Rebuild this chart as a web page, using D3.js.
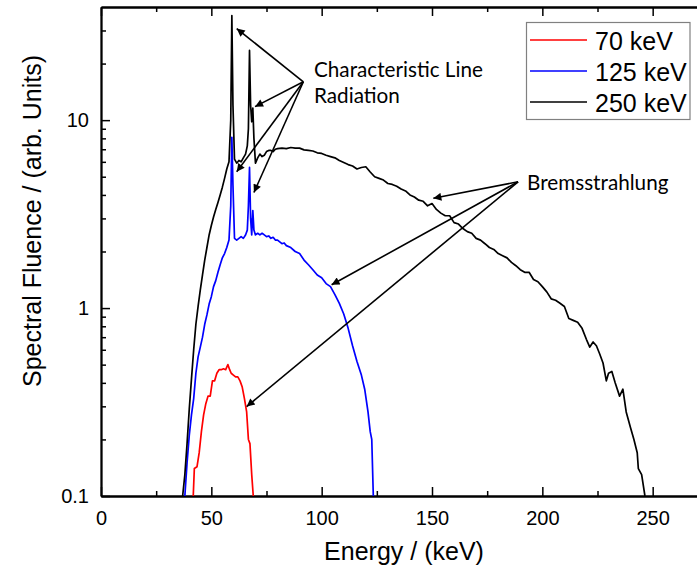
<!DOCTYPE html>
<html>
<head>
<meta charset="utf-8">
<script src="https://cdn.jsdelivr.net/npm/d3@7"></script>
<style>
  html, body { margin: 0; padding: 0; background: #fff; }
  svg { display: block; }
  .axis text { font-family: "Liberation Sans", Arial, sans-serif; font-size: 20px; fill: #000; }
  .axis path, .axis line { stroke: #000; }
</style>
</head>
<body>
<svg id="chart" width="697" height="572"></svg>
<script>
// ---------- data ----------
const seriesNames = ["70 keV", "125 keV", "250 keV"];
const seriesColors = ["#ff0000", "#0000ff", "#000000"];

const energy70 = [41.8,42.3,43.5,44.5,45.5,46.5,47.5,48.5,49.5,50.5,51.5,52.5,53.5,54.5,55.5,56.5,57.5,58.3,59,60,61,62,63,64,65,66,66.8,67.5,68.3,69.0];
const fluence70 = [0.1,0.14,0.143,0.17,0.22,0.27,0.31,0.34,0.34,0.41,0.41,0.45,0.47,0.47,0.475,0.47,0.5,0.47,0.45,0.44,0.43,0.43,0.41,0.38,0.33,0.28,0.2,0.19,0.13,0.1];

const energy125 = [38,39,40,41,42,43,44,45,46,47,48,49,50,51,52,53,54,55,56,57,58,58.8,59.3,59.8,60.5,61.5,62.5,63.5,64.5,65.5,66.3,66.8,67.3,67.8,68.3,68.8,69.3,70,71,72,73,74,75,76,77,78,79,80,81,82,83,84,86,88,90,92,94,96,98,100,102,104,106,108,110,112,114,116,118,119.5,121,122,122.7,123.4];
const fluence125 = [0.1,0.15,0.21,0.27,0.33,0.45,0.55,0.62,0.7,0.82,0.92,1.05,1.15,1.3,1.4,1.55,1.7,1.85,1.95,2.1,2.3,3.5,8.1,4.5,2.35,2.3,2.35,2.4,2.35,2.45,2.6,3.5,5.6,3.0,2.45,3.3,2.6,2.45,2.5,2.45,2.5,2.45,2.4,2.42,2.35,2.38,2.3,2.3,2.25,2.2,2.22,2.15,2.1,2.0,1.95,1.8,1.7,1.6,1.5,1.45,1.35,1.3,1.18,1.06,0.93,0.78,0.63,0.52,0.44,0.37,0.28,0.22,0.2,0.1];

const energy250 = [37,38,39,40,41,42,43,44,45,46,47,48,49,50,51,52,53,54,55,56,57,58,58.8,59.3,59.8,60.5,61.5,62.5,63.5,64.5,65.5,66.3,66.8,67.3,67.8,68.3,68.8,69.3,70,71,72,73,74,75,76,77,78,79,80,82,84,86,88,90,92,94,96,98,100,102,104,106,108,110,112,114,116,118,120,122,124,126,128,130,132,134,136,138,140,142,144,146,148,150,152,154,156,158,160,162,164,166,168,170,172,174,176,178,180,182,184,186,188,190,192,194,196,198,200,202,204,206,208,210,212,214,216,218,220,221.5,223,224.5,226,227.5,229,230,231.5,233,235,236.5,238,240,241.5,243,243.5,245,246.5];
const fluence250 = [0.1,0.13,0.19,0.29,0.42,0.6,0.82,1.02,1.25,1.5,1.8,2.1,2.45,2.75,3.05,3.35,3.65,4.0,4.4,4.9,5.5,6.0,10,36,12,6.2,5.9,6.1,6.0,6.3,6.6,7.3,9,23.5,12,9.8,11.6,8,5.9,6.3,6.6,6.4,6.5,6.8,6.9,6.9,6.8,7.0,7.05,7.1,7.05,7.15,7.1,7.1,6.95,6.9,6.85,6.7,6.65,6.5,6.4,6.3,6.1,5.95,5.8,5.7,5.5,5.6,5.65,5.3,5.0,4.9,4.8,4.6,4.55,4.45,4.3,4.2,4.0,3.9,3.75,3.7,3.5,3.6,3.35,3.2,3.1,3.1,2.85,2.8,2.65,2.55,2.5,2.35,2.3,2.2,2.1,2.05,1.95,1.9,1.85,1.75,1.68,1.6,1.55,1.55,1.42,1.38,1.3,1.22,1.12,1.1,1.06,1.02,0.88,0.86,0.84,0.78,0.68,0.62,0.66,0.63,0.57,0.51,0.41,0.45,0.46,0.40,0.34,0.37,0.28,0.23,0.2,0.17,0.14,0.13,0.1];

const xMajorTicks = [0, 50, 100, 150, 200, 250];
const xMinorTicks = [25, 75, 125, 175, 225, 275];
const yMajorTicks = [0.1, 1, 10];
const yMinorTicks = [0.2,0.3,0.4,0.5,0.6,0.7,0.8,0.9,2,3,4,5,6,7,8,9,20,30];

// annotations in data coordinates [energy, fluence]
const charLabel = ["Characteristic Line", "Radiation"];
const charOrigin = [91.7, 16.0];
const charTargets = [[61.5, 30.7], [69.8, 11.8], [61.5, 5.31], [69.3, 4.12]];
const bremsLabel = "Bremsstrahlung";
const bremsOrigin = [189, 4.7];
const bremsTargets = [[150.6, 3.84], [104.5, 1.33], [66.0, 0.299]];

// ---------- layout ----------
const svg = d3.select("#chart");
const x = d3.scaleLinear().domain([0, 280]).range([101, 101 + 280 * 2.2067]);
const y = d3.scaleLog().domain([0.1, 40]).range([496, 7]);

const defs = svg.append("defs");
defs.append("marker")
  .attr("id", "arrow").attr("viewBox", "0 0 10 10")
  .attr("refX", 10).attr("refY", 5)
  .attr("markerWidth", 10).attr("markerHeight", 8)
  .attr("markerUnits", "userSpaceOnUse")
  .attr("orient", "auto")
  .append("path").attr("d", "M0,0 L10,5 L0,10 z").attr("fill", "#000");

// axes
const axW = 1.8;
function styleAxis(g) {
  g.select(".domain").attr("stroke-width", axW);
  g.selectAll(".tick line").attr("stroke-width", 1.5);
}
const gx = svg.append("g").attr("class", "axis").attr("transform", "translate(0,496)")
  .call(d3.axisBottom(x).tickValues(xMajorTicks).tickSize(-9).tickSizeOuter(0).tickPadding(15).tickFormat(d3.format("d")));
styleAxis(gx);
const gxm = svg.append("g").attr("class", "axis").attr("transform", "translate(0,496)")
  .call(d3.axisBottom(x).tickValues(xMinorTicks).tickSize(-5).tickSizeOuter(0).tickFormat(""));
styleAxis(gxm);
const gxt = svg.append("g").attr("class", "axis").attr("transform", "translate(0,7)")
  .call(d3.axisTop(x).tickValues(xMajorTicks).tickSize(-9).tickSizeOuter(0).tickFormat(""));
styleAxis(gxt);
const gxtm = svg.append("g").attr("class", "axis").attr("transform", "translate(0,7)")
  .call(d3.axisTop(x).tickValues(xMinorTicks).tickSize(-5).tickSizeOuter(0).tickFormat(""));
styleAxis(gxtm);
const gy = svg.append("g").attr("class", "axis").attr("transform", "translate(101,0)")
  .call(d3.axisLeft(y).tickValues(yMajorTicks).tickSize(-9).tickSizeOuter(0).tickPadding(12).tickFormat(d => d < 1 ? "0.1" : d3.format("d")(d)));
styleAxis(gy);
const gym = svg.append("g").attr("class", "axis").attr("transform", "translate(101,0)")
  .call(d3.axisLeft(y).tickValues(yMinorTicks).tickSize(-5).tickSizeOuter(0).tickFormat(""));
styleAxis(gym);

// axis titles
svg.append("text")
  .attr("x", 404).attr("y", 560).attr("text-anchor", "middle")
  .attr("font-family", "Liberation Sans, Arial, sans-serif").attr("font-size", 25)
  .text("Energy / (keV)");
svg.append("text")
  .attr("transform", "translate(41,221) rotate(-90)").attr("text-anchor", "middle")
  .attr("font-family", "Liberation Sans, Arial, sans-serif").attr("font-size", 25)
  .text("Spectral Fluence / (arb. Units)");

// lines
const seriesData = [
  d3.zip(energy70, fluence70),
  d3.zip(energy125, fluence125),
  d3.zip(energy250, fluence250)
];
const line = d3.line().x(d => x(d[0])).y(d => y(d[1]));
svg.append("g").selectAll("path").data(seriesData).join("path")
  .attr("d", line).attr("fill", "none")
  .attr("stroke", (d, i) => seriesColors[i])
  .attr("stroke-width", 1.7).attr("stroke-linejoin", "round");

// annotation arrows
const annFont = "Lato, 'Open Sans', sans-serif";
function arrows(origin, targets) {
  svg.append("g").selectAll("line").data(targets).join("line")
    .attr("x1", x(origin[0])).attr("y1", y(origin[1]))
    .attr("x2", d => x(d[0])).attr("y2", d => y(d[1]))
    .attr("stroke", "#000").attr("stroke-width", 1.6)
    .attr("marker-end", "url(#arrow)");
}
arrows(charOrigin, charTargets);
arrows(bremsOrigin, bremsTargets);

svg.append("g").selectAll("text").data(charLabel).join("text")
  .attr("x", 314).attr("y", (d, i) => 77 + i * 26)
  .attr("font-family", annFont).attr("font-size", 20.7).attr("fill", "#000")
  .text(d => d);
svg.append("text").attr("x", 527).attr("y", 190)
  .attr("font-family", annFont).attr("font-size", 20.7).attr("fill", "#000")
  .text(bremsLabel);

// legend
const lg = svg.append("g");
lg.append("rect").attr("x", 526.5).attr("y", 22.5).attr("width", 163.5).attr("height", 97)
  .attr("fill", "#fff").attr("stroke", "#808080").attr("stroke-width", 1.2);
const rows = lg.selectAll("g.row").data(seriesNames).join("g").attr("class", "row")
  .attr("transform", (d, i) => `translate(0,${40 + i * 31})`);
rows.append("line").attr("x1", 530).attr("x2", 587).attr("y1", 0).attr("y2", 0)
  .attr("stroke", (d, i) => seriesColors[i]).attr("stroke-width", 1.7);
rows.append("text").attr("x", 595).attr("y", 9.5)
  .attr("font-family", "Liberation Sans, Arial, sans-serif").attr("font-size", 25)
  .text(d => d);
</script>
</body>
</html>
